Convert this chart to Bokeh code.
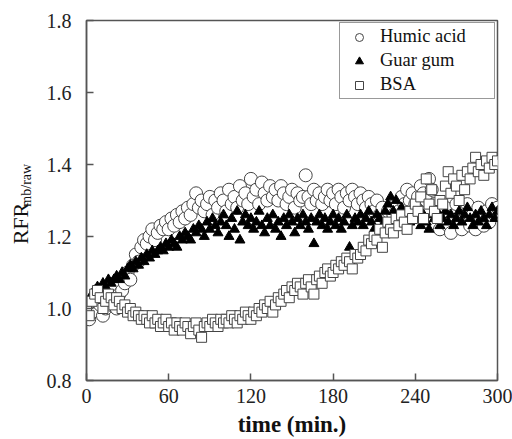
import math
from bokeh.plotting import figure
from bokeh.layouts import row
from bokeh.models import (Range1d, FixedTicker, Label, Legend, LegendItem,
                          PrintfTickFormatter)
from bokeh.embed import file_html
from bokeh.resources import INLINE

# ---------------- data ----------------
time_min = list(range(0, 301, 2))

humic_acid = [
    1.00, 0.97, 0.99, 1.02, 1.04, 1.01, 0.98, 1.00, 1.03, 1.01,
    1.02, 1.00, 1.04, 1.05, 1.07, 1.10, 1.08, 1.12, 1.15, 1.13,
    1.17, 1.19, 1.18, 1.20, 1.22, 1.19, 1.21, 1.23, 1.22, 1.24,
    1.22, 1.25, 1.23, 1.26, 1.24, 1.27, 1.25, 1.28, 1.26, 1.29,
    1.32, 1.28, 1.30, 1.27, 1.29, 1.31, 1.26, 1.30, 1.28, 1.32,
    1.30, 1.27, 1.33, 1.29, 1.31, 1.28, 1.34, 1.30, 1.32, 1.29,
    1.36, 1.31, 1.33, 1.29, 1.35, 1.32, 1.30, 1.34, 1.31, 1.33,
    1.30, 1.34, 1.32, 1.29, 1.31, 1.33, 1.28, 1.32, 1.30, 1.31,
    1.37, 1.31, 1.29, 1.33, 1.30, 1.32, 1.29, 1.31, 1.33, 1.30,
    1.32, 1.29, 1.33, 1.31, 1.28, 1.32, 1.30, 1.33, 1.31, 1.29,
    1.32, 1.30, 1.28, 1.31, 1.29, 1.27, 1.30, 1.26, 1.28, 1.25,
    1.27, 1.24, 1.26, 1.29, 1.27, 1.31, 1.29, 1.33, 1.30, 1.32,
    1.29, 1.31, 1.34, 1.32, 1.30, 1.36, 1.33, 1.29, 1.26, 1.22,
    1.25, 1.28, 1.23, 1.21, 1.26, 1.29, 1.24, 1.22, 1.27, 1.29,
    1.23, 1.26, 1.22, 1.28, 1.25, 1.23, 1.27, 1.24, 1.29, 1.26,
    1.28,
]

guar_gum = [
    1.00, 1.02, 1.04, 1.05, 1.06, 1.05, 1.07, 1.06, 1.08, 1.07,
    1.08, 1.09, 1.08, 1.10, 1.09, 1.11, 1.12, 1.11, 1.13, 1.12,
    1.14, 1.13, 1.15, 1.14, 1.16, 1.15, 1.16, 1.17, 1.16, 1.18,
    1.17, 1.19, 1.18, 1.17, 1.20, 1.19, 1.21, 1.20, 1.19, 1.22,
    1.21, 1.23, 1.22, 1.20, 1.24, 1.22, 1.25, 1.23, 1.21, 1.24,
    1.26, 1.23, 1.20, 1.25, 1.22, 1.27, 1.19, 1.24, 1.26, 1.23,
    1.25, 1.22, 1.24, 1.27, 1.23, 1.21, 1.25, 1.23, 1.26, 1.22,
    1.24, 1.20, 1.25, 1.23, 1.26, 1.24, 1.21, 1.25, 1.23, 1.26,
    1.24, 1.22, 1.25, 1.18, 1.24, 1.26, 1.23, 1.25, 1.22, 1.24,
    1.26, 1.23, 1.25, 1.22, 1.24, 1.26, 1.17, 1.23, 1.25, 1.24,
    1.26, 1.23, 1.25, 1.27, 1.24, 1.22, 1.26, 1.25, 1.23, 1.27,
    1.29, 1.31, 1.27, 1.30, 1.26, 1.28, 1.25, 1.27, 1.24, 1.26,
    1.25, 1.27, 1.23, 1.26, 1.24, 1.22, 1.26, 1.25, 1.27, 1.23,
    1.25, 1.27, 1.24, 1.26, 1.23, 1.25, 1.27, 1.24, 1.26, 1.28,
    1.25, 1.23, 1.26, 1.24, 1.27, 1.25, 1.23, 1.26, 1.28, 1.25,
    1.27,
]

bsa = [
    1.00, 0.98, 1.02, 1.04, 1.05, 1.03, 1.00, 1.02, 1.04, 1.03,
    1.01, 1.03, 1.02, 1.00, 1.01, 0.99, 1.00, 0.98, 0.99, 0.98,
    0.97, 0.98, 0.97, 0.96, 0.98, 0.96, 0.97, 0.95, 0.96, 0.97,
    0.95, 0.96, 0.94, 0.96, 0.95, 0.94, 0.96, 0.95, 0.93, 0.95,
    0.96, 0.94, 0.92, 0.95, 0.96, 0.95, 0.97, 0.96, 0.95, 0.97,
    0.96, 0.97, 0.96, 0.98, 0.97, 0.96, 0.98, 0.97, 0.99, 0.98,
    0.97, 0.99, 0.98, 1.00, 0.99, 1.01, 1.00, 1.02, 0.99, 1.01,
    1.03, 1.02, 1.04, 1.05, 1.03, 1.06, 1.05, 1.07, 1.06, 1.04,
    1.07, 1.08, 1.06, 1.04, 1.08, 1.09, 1.07, 1.10, 1.11, 1.09,
    1.10, 1.12, 1.11, 1.13, 1.12, 1.14, 1.13, 1.11, 1.15, 1.14,
    1.15, 1.17, 1.16, 1.19, 1.18, 1.20, 1.19, 1.22, 1.17, 1.21,
    1.24, 1.22, 1.21, 1.25, 1.23, 1.26, 1.24, 1.22, 1.27, 1.25,
    1.29, 1.27, 1.31, 1.25, 1.36, 1.29, 1.33, 1.27, 1.25, 1.30,
    1.29, 1.34, 1.38, 1.32, 1.36, 1.34, 1.30, 1.37, 1.33, 1.38,
    1.36, 1.39, 1.42, 1.38, 1.40, 1.37, 1.41, 1.39, 1.42, 1.40,
    1.41,
]

x_ticks = [0, 60, 120, 180, 240, 300]
y_ticks = [0.8, 1.0, 1.2, 1.4, 1.6, 1.8]
series_names = ["Humic acid", "Guar gum", "BSA"]
x_title = "time (min.)"
y_title_main = "RFR"
y_title_sub = "mb/raw"

FONT = "Liberation Serif"
FRAME = "#555555"
H = 439
LABEL_W = 40

# ---- narrow strip holding the rotated y-axis title ----
lab = figure(width=LABEL_W, height=H, output_backend="svg",
             toolbar_location=None, x_axis_type=None, y_axis_type=None,
             x_range=Range1d(0, LABEL_W), y_range=Range1d(0, H),
             min_border=0, min_border_left=0, min_border_right=0,
             min_border_top=0, min_border_bottom=0)
lab.grid.visible = False
lab.outline_line_color = None
lab.background_fill_color = "white"
lab.border_fill_color = "white"
lab.add_layout(Label(x=20, y=H - 273, text=y_title_main, angle=math.pi / 2,
                     text_font=FONT, text_font_size="22px",
                     text_align="left", text_baseline="alphabetic",
                     text_color="#111111"))
lab.add_layout(Label(x=26, y=H - 227, text=y_title_sub, angle=math.pi / 2,
                     text_font=FONT, text_font_size="14px",
                     text_align="left", text_baseline="alphabetic",
                     text_color="#111111"))

# ---- main chart ----
p = figure(width=512 - LABEL_W, height=H, output_backend="svg",
           toolbar_location=None,
           x_range=Range1d(0, 300), y_range=Range1d(0.8, 1.8),
           min_border_left=86 - LABEL_W, min_border_right=15,
           min_border_top=20, min_border_bottom=59)
p.grid.visible = False
p.outline_line_color = FRAME
p.outline_line_width = 1.5
p.background_fill_color = "white"
p.border_fill_color = "white"

r_h = p.scatter(time_min, humic_acid, marker="circle", size=13,
                fill_color="white", line_color="#444444", line_width=1)
r_g = p.scatter(time_min, guar_gum, marker="triangle", size=10,
                fill_color="black", line_color="black", line_width=1)
r_b = p.scatter(time_min, bsa, marker="square", size=10,
                fill_color="white", line_color="#444444", line_width=1)

for ax in (p.xaxis[0], p.yaxis[0]):
    ax.axis_line_color = FRAME
    ax.axis_line_width = 1.5
    ax.major_tick_line_color = FRAME
    ax.major_tick_line_width = 1.5
    ax.major_tick_in = 7
    ax.major_tick_out = 0
    ax.minor_tick_line_color = None
    ax.major_label_text_font = FONT
    ax.major_label_text_font_size = "20px"
    ax.major_label_text_color = "#222222"

p.xaxis.ticker = FixedTicker(ticks=x_ticks)
p.yaxis.ticker = FixedTicker(ticks=y_ticks)
p.yaxis.formatter = PrintfTickFormatter(format="%.1f")
p.xaxis.major_label_standoff = 8
p.yaxis.major_label_standoff = 15

p.xaxis.axis_label = x_title
p.xaxis.axis_label_text_font = FONT
p.xaxis.axis_label_text_font_style = "bold"
p.xaxis.axis_label_text_font_size = "23px"
p.xaxis.axis_label_text_color = "#111111"
p.xaxis.axis_label_standoff = 6

legend = Legend(items=[LegendItem(label=series_names[0], renderers=[r_h]),
                       LegendItem(label=series_names[1], renderers=[r_g]),
                       LegendItem(label=series_names[2], renderers=[r_b])],
                location=(253, 281))
legend.label_text_font = FONT
legend.label_text_font_size = "18.5px"
legend.label_text_color = "#111111"
legend.border_line_color = "#333333"
legend.border_line_width = 1.5
legend.padding = 3
legend.spacing = 3
legend.margin = 0
legend.glyph_width = 32
legend.glyph_height = 20
legend.label_height = 20
legend.label_width = 111
legend.label_standoff = 5
legend.background_fill_alpha = 1
p.add_layout(legend, "center")

layout = row(lab, p, spacing=0)
open("out.html", "w").write(file_html(layout, INLINE))
